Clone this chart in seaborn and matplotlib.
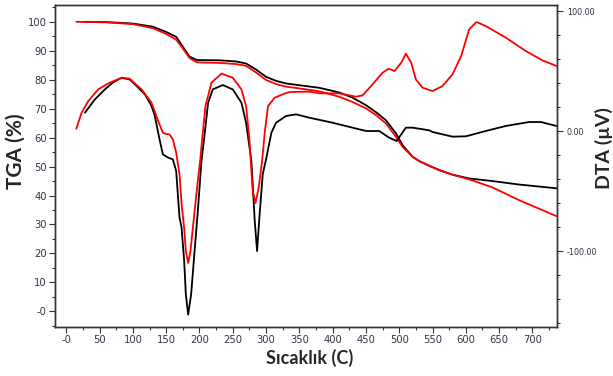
import matplotlib
matplotlib.use("Agg")
import matplotlib.pyplot as plt
import seaborn as sns
from matplotlib.ticker import MultipleLocator, FixedLocator, FixedFormatter

# TGA curves (temperature in C, mass in %)
tga_black_t = [28, 60, 100, 130, 150, 165, 175, 185, 196, 230, 255, 270, 285, 300, 315, 330, 350, 380,
               410, 430, 450, 465, 480, 495, 505, 520, 530, 545, 560, 580, 605, 640, 680, 736]
tga_black_v = [100, 99.9, 99.4, 98.3, 96.5, 94.8, 91.4, 88.0, 86.8, 86.7, 86.3, 85.6, 83.5, 81.0, 79.6,
               78.7, 78.1, 77.2, 75.6, 73.8, 71.2, 68.8, 66.0, 61.5, 57.4, 53.4, 51.9, 50.3, 48.8, 47.2,
               45.9, 45.0, 43.8, 42.5]
tga_red_t = [15, 60, 100, 130, 150, 165, 175, 185, 196, 230, 255, 270, 285, 300, 315, 330, 350, 380,
             410, 430, 450, 465, 480, 495, 505, 520, 530, 545, 560, 580, 605, 640, 680, 736]
tga_red_v = [100, 99.8, 99.2, 97.8, 95.8, 93.8, 90.8, 87.5, 86.0, 85.8, 85.4, 84.8, 82.5, 79.9, 78.5,
             77.6, 77.0, 76.0, 74.1, 72.3, 70.1, 67.8, 64.9, 60.3, 56.8, 53.4, 51.9, 50.3, 48.8, 47.2,
             45.6, 42.8, 38.4, 32.9]

# DTA curves (temperature in C, signal in uV)
dta_black_t = [28, 43, 58, 70, 83, 95, 103, 118, 128, 133, 140, 145, 153, 160, 165, 170, 173, 177,
               179.5, 183, 187.5, 191.5, 197.5, 203, 208, 213, 220, 235, 250, 263, 270, 278, 283,
               286.5, 290, 295, 300, 308, 315, 330, 345, 365, 400, 440, 451, 470, 485, 496, 503,
               510, 520, 545, 550, 580, 600, 630, 660, 695, 713, 736]
dta_black_v = [15.3, 26.4, 34.7, 40.5, 44.4, 43.0, 38.9, 30.6, 20.8, 12.5, -6.9, -19.4, -22.2, -23.6,
               -33.3, -72, -80, -108, -136, -153, -136, -108, -67, -25, -1.4, 23.6, 34.7, 38.3, 34.7,
               23.6, 6.9, -25, -75, -100, -72, -36, -23.6, -1.4, 6.9, 12.5, 13.9, 11.1, 6.9, 1.4,
               0, 0, -5.6, -8.3, -2.8, 2.8, 2.8, 0.6, -0.8, -4.7, -4.4, 0, 4.2, 7.5, 7.5, 4.2]
dta_red_t = [15, 23, 33, 48, 63, 83, 95, 113, 128, 138, 145, 150, 155, 160, 165, 170, 173, 177,
             179.5, 183, 186.5, 190, 194, 198, 201, 204, 209, 218, 233, 250, 263, 270, 275, 277,
             280, 284, 289, 294, 298, 303, 313, 325, 335, 365, 380, 410, 435, 445, 460, 475, 484,
             493, 503, 510, 518, 525, 535, 550, 565, 580, 593, 605, 616, 630, 660, 690, 715, 736]
dta_red_v = [1.9, 15.3, 25.0, 34.7, 39.7, 44.4, 43.6, 34.7, 23.6, 8.3, -1.4, -2.5, -2.8, -6.9, -18,
             -36, -60, -81, -100, -110, -100, -81, -60, -39, -25, -7, 20.8, 40.3, 47.8, 44.4, 34.7,
             20.8, -7, -25, -50, -60, -47, -25, -1.4, 20.8, 27.8, 30.6, 32.5, 32.8, 31.4, 31.4,
             28.6, 29.7, 38.9, 48.6, 51.9, 50.0, 56.9, 64.4, 56.9, 43.0, 36.1, 33.3, 37.5, 47.2,
             62.5, 84.7, 90.8, 87.5, 77.8, 66.7, 58.9, 54.2]

x_ticks = [0, 50, 100, 150, 200, 250, 300, 350, 400, 450, 500, 550, 600, 650, 700]
x_tick_labels = ["-0"] + [str(v) for v in x_ticks[1:]]
tga_ticks = [0, 10, 20, 30, 40, 50, 60, 70, 80, 90, 100]
tga_tick_labels = ["-0"] + [str(v) for v in tga_ticks[1:]]
dta_ticks = [-100, 0, 100]
dta_tick_labels = ["-100.00", "0.00", "100.00"]

sns.set_style("ticks")
plt.rcParams["font.family"] = ["Lato", "DejaVu Sans"]

tick_font = ["DejaVu Sans"]
tick_color = "#33334a"

fig = plt.figure(figsize=(6.13, 3.76), dpi=100)
ax = fig.add_axes([0.0897, 0.1303, 0.819, 0.8564])
ax2 = ax.twinx()

lw = 1.3
sns.lineplot(x=tga_black_t, y=tga_black_v, ax=ax, color="black", linewidth=lw, estimator=None, sort=False)
sns.lineplot(x=tga_red_t, y=tga_red_v, ax=ax, color="#ff0000", linewidth=lw, estimator=None, sort=False)
sns.lineplot(x=dta_black_t, y=dta_black_v, ax=ax2, color="black", linewidth=lw, estimator=None, sort=False)
sns.lineplot(x=dta_red_t, y=dta_red_v, ax=ax2, color="#ff0000", linewidth=lw, estimator=None, sort=False)

ax.set_xlim(-17, 737)
ax.set_ylim(-5.4, 105.8)
ax2.set_ylim(-163.3, 105)

ax.xaxis.set_major_locator(FixedLocator(x_ticks))
ax.xaxis.set_major_formatter(FixedFormatter(x_tick_labels))
ax.xaxis.set_minor_locator(MultipleLocator(25))
ax.yaxis.set_major_locator(FixedLocator(tga_ticks))
ax.yaxis.set_major_formatter(FixedFormatter(tga_tick_labels))
ax.yaxis.set_minor_locator(MultipleLocator(5))
ax2.yaxis.set_major_locator(FixedLocator(dta_ticks))
ax2.yaxis.set_major_formatter(FixedFormatter(dta_tick_labels))
ax2.yaxis.set_minor_locator(MultipleLocator(20))

for a in (ax, ax2):
    for s in a.spines.values():
        s.set_visible(True)
        s.set_color("#333333")
        s.set_linewidth(1.0)
    a.tick_params(which="major", length=4, width=0.8, color="#333333")
    a.tick_params(which="minor", length=2.5, width=0.8, color="#333333")

for lab in ax.get_xticklabels() + ax.get_yticklabels():
    lab.set_family(tick_font)
    lab.set_stretch("condensed")
    lab.set_fontsize(8)
    lab.set_color(tick_color)
for lab in ax2.get_yticklabels():
    lab.set_family(tick_font)
    lab.set_stretch("condensed")
    lab.set_fontsize(6.5)
    lab.set_color(tick_color)
ax.tick_params(axis="x", pad=2)
ax.tick_params(axis="y", pad=2)
ax2.tick_params(axis="y", pad=3)

ax.set_xlabel("Sıcaklık (C)", fontsize=13, fontweight="bold")
ax.set_ylabel("TGA (%)", fontsize=15, fontweight="bold")
ax2.set_ylabel("DTA (µV)", fontsize=14, fontweight="bold", rotation=90)
ax.xaxis.set_label_coords(0.508, -0.068)
ax.yaxis.set_label_coords(-0.058, 0.547)
ax2.yaxis.set_label_coords(1.076, 0.556)

fig.savefig("out.png", dpi=100)
